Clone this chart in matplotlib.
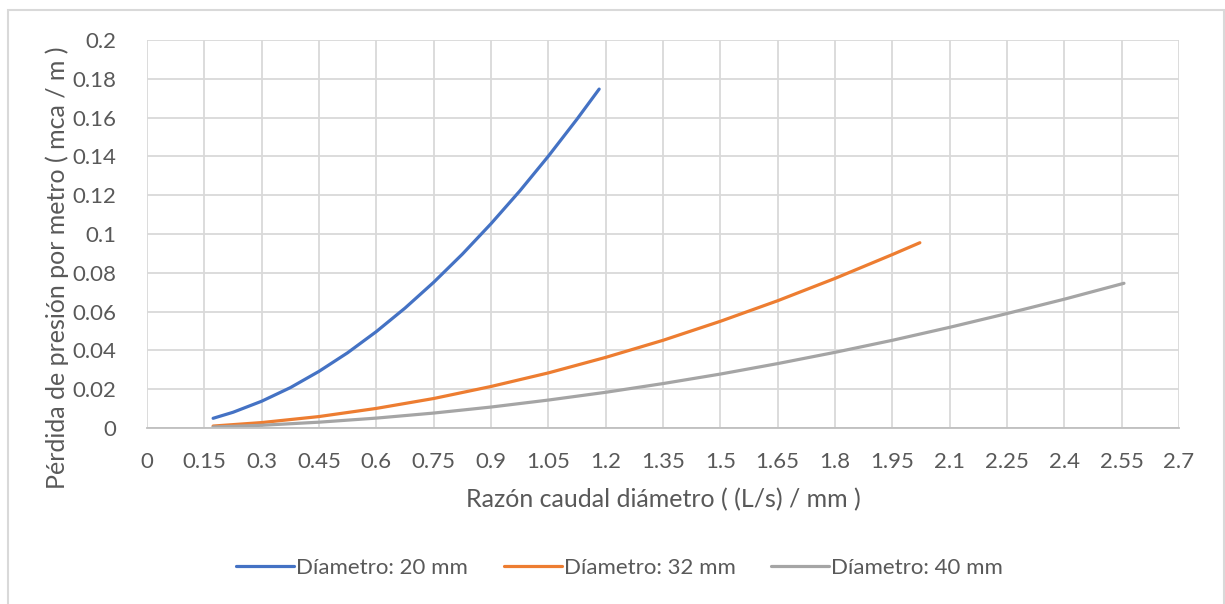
import matplotlib
matplotlib.use("Agg")
import matplotlib.pyplot as plt
import matplotlib.patches as mpatches
import numpy as np

# valores (caudal/diametro vs perdida por metro)
x_20 = [0.173, 0.225, 0.30, 0.375, 0.45, 0.525, 0.60, 0.675, 0.75, 0.825, 0.90,
        0.975, 1.05, 1.125, 1.183]
y_20 = [0.0050, 0.0081, 0.0138, 0.0208, 0.0292, 0.0388, 0.0497, 0.0618, 0.0751,
        0.0896, 0.1053, 0.1221, 0.1401, 0.1592, 0.1747]

x_32 = [0.173, 0.30, 0.45, 0.60, 0.75, 0.90, 1.05, 1.20, 1.35, 1.50, 1.65, 1.80, 1.95, 2.022]
y_32 = [0.0010, 0.0028, 0.0059, 0.0101, 0.0152, 0.0214, 0.0284, 0.0364, 0.0452,
        0.0550, 0.0656, 0.0771, 0.0894, 0.0955]

x_40 = [0.173, 0.30, 0.45, 0.60, 0.75, 0.90, 1.05, 1.20, 1.35, 1.50, 1.65, 1.80,
        1.95, 2.10, 2.25, 2.40, 2.556]
y_40 = [0.0005, 0.0014, 0.0030, 0.0051, 0.0077, 0.0108, 0.0144, 0.0184, 0.0229,
        0.0278, 0.0332, 0.0390, 0.0452, 0.0519, 0.0590, 0.0664, 0.0746]

series_labels = ["Díametro: 20 mm", "Díametro: 32 mm", "Díametro: 40 mm"]
series_colors = ["#4472C4", "#ED7D31", "#A5A5A5"]

x_ticks = [round(0.15 * i, 2) for i in range(19)]
y_ticks = [round(0.02 * i, 2) for i in range(11)]

plt.rcParams['font.family'] = ['Lato', 'DejaVu Sans']
text_color = "#595959"

fig = plt.figure(figsize=(12.25, 6.04), dpi=100)
ax = fig.add_axes([147 / 1225, 1 - 428 / 604, (1179 - 147) / 1225, (428 - 40) / 604])

# marco exterior del grafico (el borde inferior queda fuera de la imagen)
fig.patches.append(mpatches.Rectangle((7.5 / 1225, -0.05), 1216 / 1225, 1.05 - 10 / 604,
                                      transform=fig.transFigure, fill=False,
                                      edgecolor="#d9d9d9", lw=1.5))

for xs, ys, lab, col in zip([x_20, x_32, x_40], [y_20, y_32, y_40], series_labels, series_colors):
    ax.plot(xs, ys, color=col, lw=2.3, label=lab, solid_capstyle="round")

ax.set_xlim(0, 2.7)
ax.set_ylim(0, 0.2)
ax.set_xticks(x_ticks)
ax.set_yticks(y_ticks)
ax.set_xticklabels(["{:g}".format(v) for v in x_ticks])
ax.set_yticklabels(["{:g}".format(v) for v in y_ticks])
ax.grid(True, color="#d9d9d9", lw=1.3)
ax.set_axisbelow(True)
for s in ["top", "right", "left"]:
    ax.spines[s].set_visible(False)
ax.spines["bottom"].set_color("#bfbfbf")
ax.spines["bottom"].set_linewidth(1.3)
ax.tick_params(length=0, labelsize=16, colors=text_color, pad=17)
ax.tick_params(axis="y", pad=22)

ax.set_xlabel("Razón caudal diámetro ( (L/s) / mm )", fontsize=18, color=text_color, labelpad=12)
ax.set_ylabel("Pérdida de presión por metro ( mca / m )", fontsize=18, color=text_color,
              va="center")
ax.yaxis.set_label_coords(-0.087, 0.412)

fig.legend(loc="center", bbox_to_anchor=(0.506, 1 - 568 / 604), ncol=3, frameon=False,
           fontsize=16, handlelength=2.6, handletextpad=0.1, columnspacing=1.6,
           labelcolor=text_color)

fig.savefig("out.png", dpi=100)
